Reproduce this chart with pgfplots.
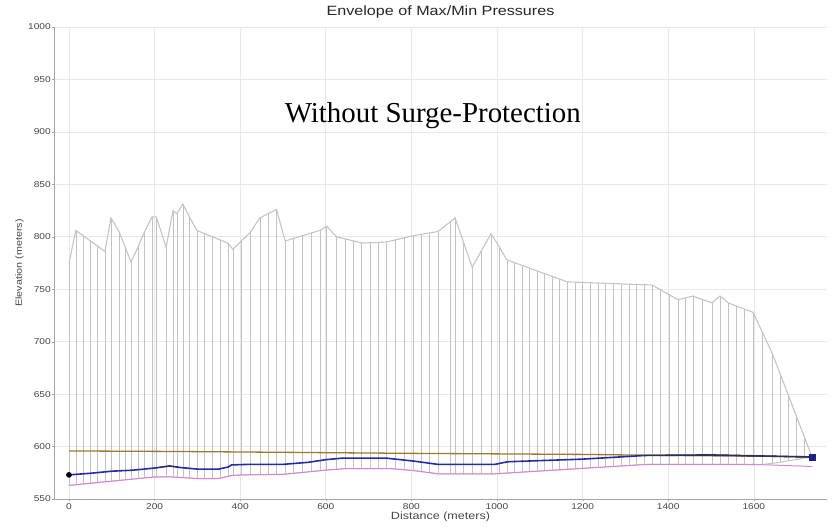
\documentclass[border=0pt]{standalone}
\usepackage{pgfplots}
\usepackage{pgfplotstable}
\usepackage{fontspec}
\pgfplotsset{compat=1.18}
\newfontfamily\chartsans[FakeStretch=1.2]{Liberation Sans}
\newfontfamily\chartserif{Liberation Serif}

\definecolor{envgray}{RGB}{196,196,196}
\definecolor{combgray}{RGB}{194,194,194}
\definecolor{gridgray}{RGB}{232,232,232}
\definecolor{hglbrown}{RGB}{158,122,44}
\definecolor{hglblue}{RGB}{38,42,168}
\definecolor{minpink}{RGB}{214,132,214}
\definecolor{ticktext}{RGB}{70,70,70}

% nodes along the pipe: distance, max head, min head
\pgfplotstableread{
x max min
0 775 563
16 806 563.6
33 801 564.3
50 796 565
67 791 565.7
84 786 566.4
98 818 566.9
117 805 567.7
131 790.5 568.2
145 776 568.8
161 790 569.4
177 805 570.1
194 819 570.8
204 819 571
227 790 571
243 825 571
252 822 570.7
266 831 570.3
282 818.5 570
299 806 569.5
317 803 569.5
335 800 569.5
353 797 569.8
371 794 571.6
383 788 572.3
403 796 573
423 804 573.1
446 818 573.2
465 822 573.3
485 826 573.4
505 796 573.7
525 798.5 574.5
545 801 575.3
565 803.5 576.1
586 806 577
602 810 577.6
625 800 578.3
645 798 578.9
665 796 579
684 794 579
703 794.3 579
722 794.6 579
742 795 579
762 797 578.6
783 799 577.9
804 801 577.1
823 802.3 576
842 803.6 575.1
862 805 574
890 814 574
902 818 574
922 794.5 574
942 771 574
964 787 574
986 803 574
1005 790.5 574.3
1023 778 574.7
1041 775.3 575.2
1058 772.8 575.6
1076 770.1 576.1
1094 767.4 576.5
1111 764.9 576.9
1129 762.2 577.4
1146 759.7 577.8
1164 757 578.3
1182 756.7 578.7
1200 756.5 579.2
1218 756.2 579.7
1236 755.9 580.1
1254 755.6 580.6
1272 755.4 581
1290 755.1 581.5
1308 754.8 581.9
1326 754.5 582.4
1344 754.3 582.8
1362 754 583
1382 749.4 583
1402 744.8 583
1423 740 583
1440 741.7 583
1458 743.5 583
1480 740.2 583
1502 737 583
1521 743.5 583
1540 737 583
1559 734 583
1578 731 583
1598 728 582.5
1620 709 583
1643 689 584
1662 668.8 585
1680 649.6 586.5
1699 629.4 587.5
1718 609.2 589
1736 590 590
}\envtable

\pgfplotstableread{
x y
0 563
100 567
200 571
240 571
300 569.5
350 569.5
375 572
400 573
500 573.5
600 577.5
650 579
750 579
808 577
862 574
995 574
1350 583
1600 583
1736 581
}\pinktable

\pgfplotstableread{
x y
0 595.8
250 595.3
500 594.5
800 593.5
1200 592.5
1400 591.5
1736 590.3
}\browntable

\pgfplotstableread{
x y
0 573
50 574.5
100 576.5
150 577.5
200 579.5
235 581.5
260 580
300 578.5
350 578.5
372 580.5
380 582.5
420 583
500 583
560 585
600 587.5
640 589
740 589
808 586
862 583
995 583
1025 585.5
1200 588
1346 591.5
1500 592
1736 590
}\bluetable

\begin{document}
\begin{tikzpicture}
\begin{axis}[
  name=ax,
  scale only axis,
  width=773bp, height=472bp,
  xmin=-35, xmax=1771,
  ymin=550, ymax=1000,
  xtick={0,200,...,1600},
  ytick={550,600,...,1000},
  scaled ticks=false,
  /pgf/number format/1000 sep={},
  /pgf/number format/assume math mode=true,
  axis lines*=left,
  axis line style={draw=gray!70, line width=0.6bp},
  tick style={draw=gray!70},
  major tick length=2bp,
  tick align=outside,
  grid=major,
  grid style={draw=gridgray, line width=0.6bp},
  tick label style={font=\chartsans\fontsize{8.5}{10}\selectfont, text=ticktext},
  yticklabel style={inner sep=1bp},
  xticklabel style={inner sep=1bp, yshift=-1bp},
  title={Envelope of Max/Min Pressures},
  title style={font=\chartsans\fontsize{13.5}{15}\selectfont, text=black!85,
    at={(axis description cs:0.5,1)}, anchor=base, yshift=6bp},
  xlabel={Distance (meters)},
  x label style={font=\chartsans\fontsize{10.5}{12}\selectfont, text=ticktext,
    at={(axis description cs:0.5,0)}, anchor=north, yshift=-13bp, inner sep=0pt},
  ylabel={Elevation (meters)},
  y label style={font=\chartsans\fontsize{9}{11}\selectfont, text=ticktext,
    at={(axis description cs:0,0.5)}, anchor=south, yshift=30bp, inner sep=0pt},
]
% vertical node lines from min to max
\addplot[draw=none, mark=none, forget plot,
  error bars/.cd, y dir=minus, y explicit, error mark=none,
  error bar style={draw=combgray, line width=0.5bp}]
  table[x=x, y=max, y error minus expr=\thisrow{max}-\thisrow{min}] {\envtable};
% max envelope
\addplot[envgray, line width=1.1bp, mark=none] table[x=x, y=max] {\envtable};
% min envelope
\addplot[envgray, line width=1bp, mark=none] table[x=x, y=min] {\envtable};
% minimum pressure line
\addplot[minpink, line width=1bp, mark=none] table[x=x, y=y] {\pinktable};
% brown line
\addplot[hglbrown, line width=1.3bp, mark=none] table[x=x, y=y] {\browntable};
% blue hydraulic grade line
\addplot[hglblue, line width=1.6bp, mark=none] table[x=x, y=y] {\bluetable};
\addplot[black!80, line width=0.8bp, mark=none, restrict x to domain=195:265] table[x=x, y=y] {\bluetable};
\addplot[black!80, line width=1.1bp, mark=none, restrict x to domain=1346:1736] table[x=x, y=y] {\bluetable};
% end markers
\addplot[only marks, mark=*, mark size=2.6bp, black] coordinates {(0,573)};
\addplot[only marks, mark=square*, mark size=2.8bp, hglblue!80!black] coordinates {(1736,590)};
\node[font=\chartserif\fontsize{29}{32}\selectfont, anchor=base] at (axis cs:850,908.5) {Without Surge-Protection};
\end{axis}
\pgfresetboundingbox
\path[use as bounding box] (ax.south west) ++(-54bp,-28bp) rectangle ([xshift=8bp,yshift=27bp]ax.north east);
\end{tikzpicture}
\end{document}
